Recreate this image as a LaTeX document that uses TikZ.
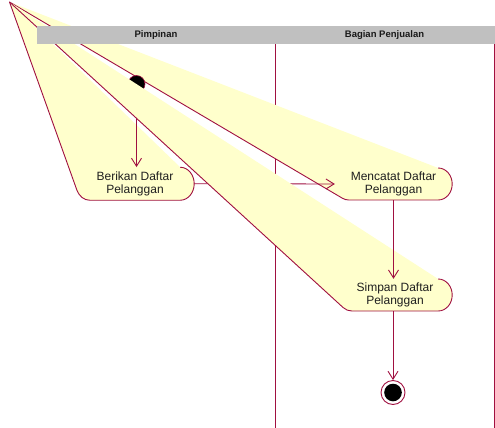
\documentclass[tikz,border=0pt]{standalone}
\usepackage{fontspec}
\setmainfont{Liberation Sans}
\usetikzlibrary{arrows.meta,calc}

\definecolor{wire}{RGB}{160,16,64}
\definecolor{actfill}{RGB}{255,255,204}
\definecolor{lanehead}{RGB}{192,192,192}

\pgfdeclarelayer{lanes}
\pgfdeclarelayer{bandA}
\pgfdeclarelayer{bandB}
\pgfdeclarelayer{links}
\pgfdeclarelayer{bandC}
\pgfsetlayers{lanes,bandA,bandB,links,bandC,main}

\tikzset{
  wireline/.style={draw=wire, line width=0.9pt, line join=round},
  flow/.style={wireline, -{Straight Barb[length=8pt,width=10pt]}},
  act/.style={rectangle, inner sep=0pt, align=center,
    font=\fontsize{12}{13}\selectfont, text=black!88},
  lanetitle/.style={font=\fontsize{9.5}{11}\selectfont\bfseries, text=black!90},
}

% activity band: node, x radius, y radius, angle where the outline leaves the apex line
\newcommand\actband[4]{%
  \path[fill=actfill] (apex) -- ($(#1.west)+(#2,0)+(#4:#2 and #3)$)
    arc[start angle=#4, end angle=270, x radius=#2, y radius=#3]
    -- ($(#1.east)+(-#2,-#3)$)
    arc[start angle=270, end angle=450, x radius=#2, y radius=#3] -- cycle;
  \path[wireline] (apex) -- ($(#1.west)+(#2,0)+(#4:#2 and #3)$)
    arc[start angle=#4, end angle=270, x radius=#2, y radius=#3]
    -- ($(#1.east)+(-#2,-#3)$)
    arc[start angle=270, end angle=450, x radius=#2, y radius=#3];
}

\begin{document}
\begin{tikzpicture}[x=1pt,y=1pt]
\useasboundingbox (0,0) rectangle (495,-428);

\coordinate (apex) at (9.5,-2);

% activities (text on top layer)
\node[act, minimum width=118pt, minimum height=33pt] (berikan) at (135,-183.75) {Berikan Daftar\\Pelanggan};
\node[act, minimum width=117pt, minimum height=32pt] (mencatat) at (393.5,-184) {Mencatat Daftar\\Pelanggan};
\node[act, minimum width=114pt, minimum height=32pt] (simpan) at (395,-295) {Simpan Daftar\\Pelanggan};

% swimlanes
\begin{pgfonlayer}{lanes}
  \draw[wireline] (275,-44) coordinate (laneA) -- (275,-428);
  \draw[wireline] (494,-44) coordinate (laneB) -- (494,-428);
\end{pgfonlayer}
\fill[lanehead] (37,-26) rectangle (495,-44);
\node[lanetitle] (pimpinan) at (156,-35.5) {Pimpinan};
\node[lanetitle] (penjualan) at (384.5,-35.5) {Bagian Penjualan};

% activity bands
\begin{pgfonlayer}{bandA}
  \actband{berikan}{14pt}{16.5pt}{203.6}
\end{pgfonlayer}
\begin{pgfonlayer}{bandB}
  \actband{mencatat}{14pt}{16pt}{243}
\end{pgfonlayer}

% start state and first transitions
\begin{pgfonlayer}{links}
  \node[circle, fill=black, draw=wire, line width=0.6pt, minimum size=17pt, inner sep=0pt] (init) at (136.5,-84) {};
  \draw[flow] (init) -- (init |- berikan.north);
  \draw[flow] (berikan.east) -- (mencatat.west);
\end{pgfonlayer}

\begin{pgfonlayer}{bandC}
  \actband{simpan}{14pt}{16pt}{231.5}
\end{pgfonlayer}

% remaining transitions and end state
\draw[flow] (mencatat.south) -- (mencatat.south |- simpan.north);
\node[circle, draw=wire, line width=0.9pt, minimum size=24pt, inner sep=0pt] (final) at (393,-392.5) {};
\fill[black] (final.center) circle (8.8pt);
\draw[flow] (final |- simpan.south) -- (final.north);
\end{tikzpicture}
\end{document}
